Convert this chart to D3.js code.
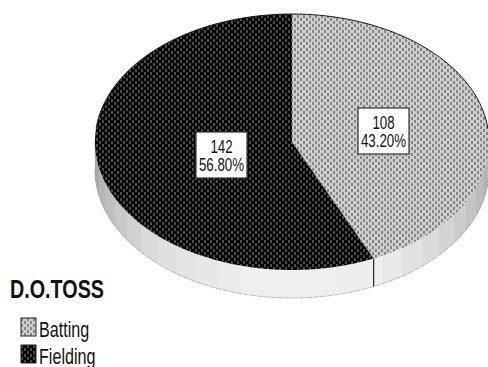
<!DOCTYPE html>
<html lang="en">
<head>
<meta charset="utf-8">
<title>D.O.TOSS</title>
<script src="https://d3js.org/d3.v7.min.js"></script>
<style>
  html, body { margin: 0; background: #fff; overflow: hidden; }
  svg { display: block; }
  text { font-family: "Liberation Sans", Arial, sans-serif; fill: #111; }
</style>
</head>
<body>
<div id="chart"></div>
<script>
var categories = ["Batting", "Fielding"];
var counts = [108, 142];
var chartTitle = "D.O.TOSS";

var width = 488, height = 367;
var cx = 292, cy = 142, rx = 197, ry = 128, depth = 28;

var svg = d3.select("#chart").append("svg")
    .attr("width", width)
    .attr("height", height);

// hatch fills for the two slices
var defs = svg.append("defs");
function addHatch(id, bg, dot) {
  var p = defs.append("pattern")
      .attr("id", id)
      .attr("patternUnits", "userSpaceOnUse")
      .attr("width", 6)
      .attr("height", 6);
  p.append("rect").attr("width", 6).attr("height", 6).attr("fill", bg);
  p.append("rect").attr("x", 0).attr("y", 0).attr("width", 2).attr("height", 3).attr("fill", dot);
  p.append("rect").attr("x", 3).attr("y", 3).attr("width", 2).attr("height", 3).attr("fill", dot);
}
addHatch("hatch-0", "#cdcdcd", "#868686");
addHatch("hatch-1", "#060606", "#4a4a4a");

var pie = d3.pie().sort(null);
var slices = pie(counts);

// point on the tilted rim, angle measured clockwise from 12 o'clock
function rim(a, drop) {
  return [cx + rx * Math.sin(a), cy - ry * Math.cos(a) + (drop || 0)];
}
var line = d3.line();

function sector(s) {
  var n = Math.ceil((s.endAngle - s.startAngle) / 0.02);
  var pts = d3.range(n + 1).map(function(i) {
    return rim(s.startAngle + (s.endAngle - s.startAngle) * i / n);
  });
  return line([[cx, cy]].concat(pts)) + "Z";
}

// side wall, drawn in flat facets going from right round to left
var shade = d3.scaleLinear()
    .domain([90, 125, 155, 190, 225, 250, 270])
    .range(["#a6a6a6", "#d0d0d0", "#eeeeee", "#f0f0f0", "#dcdcdc", "#bcbcbc", "#9c9c9c"]);
var facetStep = 7;
var side = svg.append("g");
d3.range(90, 270, facetStep).forEach(function(deg) {
  var a0 = deg * Math.PI / 180;
  var a1 = Math.min(deg + facetStep, 270) * Math.PI / 180;
  var steps = d3.range(7).map(function(i) { return a0 + (a1 - a0) * i / 6; });
  var top = steps.map(function(a) { return rim(a, 0); });
  var bottom = steps.slice().reverse().map(function(a) { return rim(a, depth); });
  side.append("path")
      .attr("d", line(top.concat(bottom)) + "Z")
      .attr("fill", shade(deg + facetStep / 2))
      .attr("stroke", shade(deg + facetStep / 2))
      .attr("stroke-width", 0.4);
});

// lower outline of the wall
side.append("path")
    .attr("d", line(d3.range(90, 271, 2).map(function(d) { return rim(d * Math.PI / 180, depth); })))
    .attr("fill", "none")
    .attr("stroke", "#9a9a9a")
    .attr("stroke-width", 0.6)
    .attr("stroke-dasharray", "6 1");

// slice boundary carried down the wall
var split = rim(slices[0].endAngle);
side.append("line")
    .attr("x1", split[0]).attr("y1", split[1])
    .attr("x2", split[0]).attr("y2", split[1] + depth)
    .attr("stroke", "#222")
    .attr("stroke-width", 1.2);

svg.append("g").selectAll("path")
    .data(slices)
    .enter().append("path")
    .attr("d", sector)
    .attr("fill", function(d, i) { return "url(#hatch-" + i + ")"; });

// dark edge only along the back half of the rim
svg.append("path")
    .attr("d", line(d3.range(-84, 85, 2).map(function(d) { return rim(d * Math.PI / 180); })))
    .attr("fill", "none")
    .attr("stroke", "#1a1a1a")
    .attr("stroke-width", 1);

// value labels
var total = d3.sum(counts);
var pct = d3.format(".2f");
var labelPos = [[383.5, 131], [221.5, 155]];
var labels = svg.append("g").selectAll("g")
    .data(slices)
    .enter().append("g")
    .attr("transform", function(d, i) { return "translate(" + labelPos[i] + ")"; });
labels.append("rect")
    .attr("x", -25.5).attr("y", -23)
    .attr("width", 51).attr("height", 46)
    .attr("fill", "#fff")
    .attr("stroke", "#333")
    .attr("stroke-width", 1.2);
labels.append("text")
    .attr("text-anchor", "middle")
    .attr("transform", "translate(0,-2.5) scale(0.76,1)")
    .attr("font-size", 17.5)
    .text(function(d) { return d.value; });
labels.append("text")
    .attr("text-anchor", "middle")
    .attr("transform", "translate(0,16) scale(0.76,1)")
    .attr("font-size", 17.5)
    .text(function(d) { return pct(d.value / total * 100) + "%"; });

// legend
svg.append("text")
    .attr("transform", "translate(10,298) scale(0.76,1)")
    .attr("font-size", 26)
    .attr("font-weight", "bold")
    .text(chartTitle);

var legend = svg.append("g").selectAll("g")
    .data(categories)
    .enter().append("g")
    .attr("transform", function(d, i) { return "translate(21," + (318 + i * 27) + ")"; });
legend.append("rect")
    .attr("width", 15).attr("height", 18)
    .attr("fill", function(d, i) { return "url(#hatch-" + i + ")"; })
    .attr("stroke", "#222")
    .attr("stroke-width", 1);
legend.append("text")
    .attr("transform", "translate(18,18.5) scale(0.75,1)")
    .attr("font-size", 21.5)
    .text(function(d) { return d; });
</script>
</body>
</html>
